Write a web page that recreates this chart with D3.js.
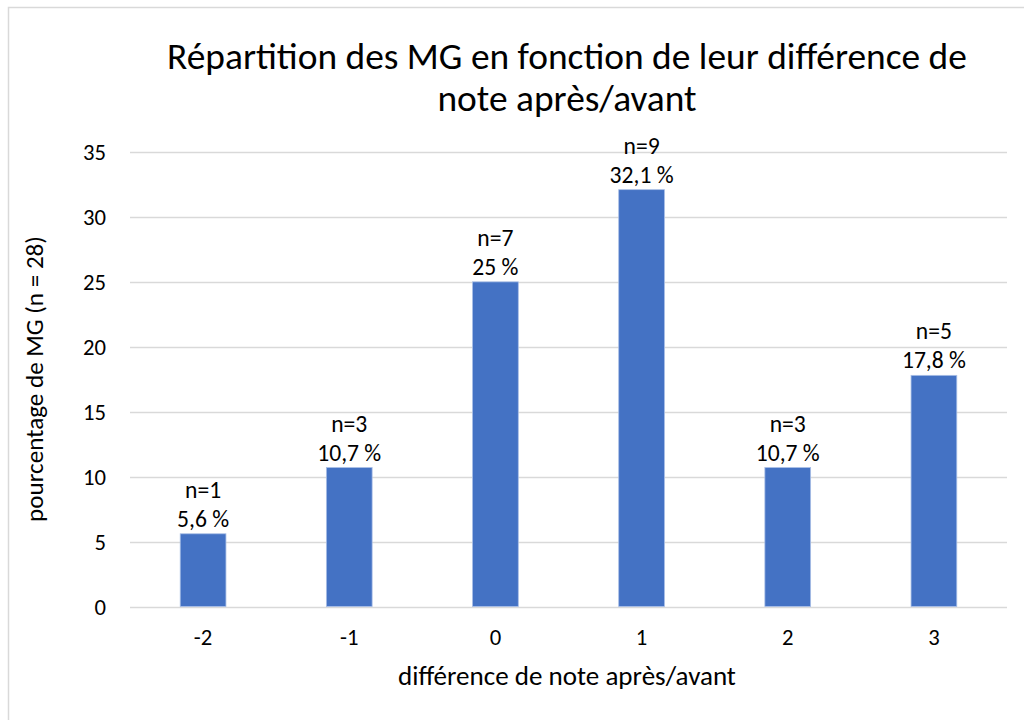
<!DOCTYPE html>
<html><head><meta charset="utf-8">
<script src="https://cdn.jsdelivr.net/npm/d3@7"></script>
<style>body{margin:0;background:#fff}svg text{font-family:Carlito,Lato,"Open Sans",sans-serif;fill:#000}</style>
</head><body><svg id="c" width="1024" height="720"></svg>
<script>
const categories = ["-2","-1","0","1","2","3"];
const values = [5.6, 10.7, 25, 32.1, 10.7, 17.8];
const counts = ["n=1","n=3","n=7","n=9","n=3","n=5"];
const valueLabels = ["5,6 %","10,7 %","25 %","32,1 %","10,7 %","17,8 %"];
const yTicks = [0,5,10,15,20,25,30,35];
const titleLines = ["Répartition des MG en fonction de leur différence de","note après/avant"];
const xTitle = "différence de note après/avant";
const yTitle = "pourcentage de MG (n = 28)";
const FONT = 'Carlito,Lato,"Open Sans",sans-serif';

const svg = d3.select("#c");
svg.append("rect").attr("x",8.5).attr("y",7.5).attr("width",1040).attr("height",740)
  .attr("fill","#fff").attr("stroke","#D9D9D9").attr("stroke-width",1.5);

const m = {l:130, r:1007, t:152, b:606.5};
const x = d3.scaleBand().domain(categories).range([m.l,m.r]).paddingInner(0.687).paddingOuter(0.3435);
const y = d3.scaleLinear().domain([0,35]).range([m.b,m.t]);

// measure helper to size fonts to match reference text widths
function fitSize(str, target){
  const t = svg.append("text").attr("font-size",20).attr("font-family",FONT).text(str);
  const w = t.node().getComputedTextLength(); t.remove();
  return 20*target/w;
}
const tickSize = fitSize("35",23);
const labSize = fitSize("32,1 %",64);

// gridlines
svg.append("g").selectAll("line").data(yTicks).join("line")
  .attr("x1",m.l).attr("x2",m.r).attr("y1",d=>Math.round(y(d))+0.5).attr("y2",d=>Math.round(y(d))+0.5)
  .attr("stroke","#D9D9D9").attr("stroke-width",1.5);

// y tick labels
const yAxis = d3.axisLeft(y).tickValues(yTicks).tickSize(0).tickPadding(0);
const gy = svg.append("g").attr("transform",`translate(${m.l-24},0)`).call(yAxis);
gy.select(".domain").remove();
gy.selectAll("text").attr("font-size",tickSize).attr("font-family",FONT).attr("fill","#000").attr("dy","0.35em");

// x tick labels
const xAxis = d3.axisBottom(x).tickSize(0).tickPadding(0);
const gx = svg.append("g").attr("transform",`translate(0,${m.b})`).call(xAxis);
gx.select(".domain").remove();
gx.selectAll("text").attr("font-size",tickSize).attr("font-family",FONT).attr("fill","#000").attr("y",38).attr("dy",0);

// bars
svg.append("g").selectAll("rect").data(values).join("rect")
  .attr("x",(d,i)=>x(categories[i])).attr("width",x.bandwidth())
  .attr("y",d=>y(d)).attr("height",d=>m.b-y(d))
  .attr("fill","#4472C4").attr("stroke","#A9BFE6").attr("stroke-width",0.8);

// data labels
const lab = svg.append("g").attr("font-size",labSize).attr("text-anchor","middle");
values.forEach((v,i)=>{
  const cx = x(categories[i])+x.bandwidth()/2;
  lab.append("text").attr("x",cx).attr("y",y(v)-7).text(valueLabels[i]);
  lab.append("text").attr("x",cx).attr("y",y(v)-36).text(counts[i]);
});

// title
const ts = fitSize(titleLines[0],800);
const t = svg.append("g").attr("text-anchor","middle").attr("font-size",ts);
t.append("text").attr("x",567).attr("y",69).text(titleLines[0]);
t.append("text").attr("x",567).attr("y",111).text(titleLines[1]);

// axis titles
svg.append("text").attr("x",567).attr("y",685).attr("text-anchor","middle")
  .attr("font-size",fitSize(xTitle,338)).text(xTitle);
svg.append("text").attr("transform","translate(43,379) rotate(-90)").attr("text-anchor","middle")
  .attr("font-size",fitSize(yTitle,286)).text(yTitle);
</script></body></html>
